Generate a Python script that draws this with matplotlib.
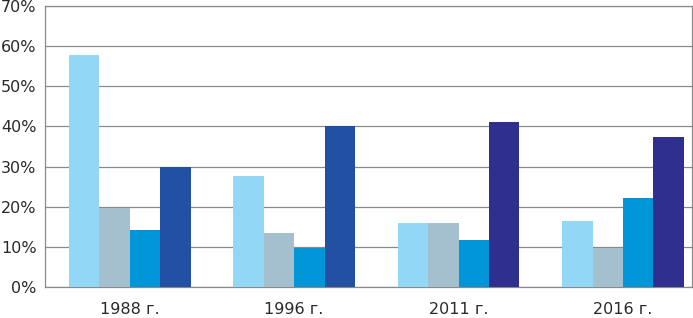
import numpy as np
import matplotlib as mpl
import matplotlib.pyplot as plt

mpl.rcParams['font.family'] = ['DejaVu Sans']

years = ['1988 г.', '1996 г.', '2011 г.', '2016 г.']
s1 = [57.9, 27.7, 16.0, 16.5]
s2 = [19.8, 13.5, 16.0, 9.7]
s3 = [14.3, 9.8, 11.7, 22.2]
s4 = [30.0, 40.0, 41.1, 37.4]

c1 = '#92d8f6'
c2 = '#a4bfcd'
c3 = '#0096d8'
c4 = ['#2250a2', '#2250a2', '#2e2f8e', '#2e2f8e']

fig = plt.figure(figsize=(6.93, 3.18), dpi=100)
ax = fig.add_axes([45 / 693, 31 / 318, 647 / 693, 281 / 318])

x = np.arange(len(years))
w = 0.185
ax.bar(x - 1.5 * w, s1, w, color=c1, zorder=3)
ax.bar(x - 0.5 * w, s2, w, color=c2, zorder=3)
ax.bar(x + 0.5 * w, s3, w, color=c3, zorder=3)
ax.bar(x + 1.5 * w, s4, w, color=c4, zorder=3)

ax.set_xlim(-0.515, 3.42)
ax.set_ylim(0, 70)
ax.set_yticks(range(0, 71, 10))
ax.set_yticklabels([f'{v}%' for v in range(0, 71, 10)], fontsize=11.5, color='#2a2a2a')
ax.set_xticks(x)
ax.set_xticklabels(years, fontsize=11.5, color='#2a2a2a')
ax.tick_params(axis='both', length=0)
ax.tick_params(axis='y', pad=6)
ax.tick_params(axis='x', pad=11)
ax.grid(axis='y', color='#8a8a8a', linewidth=0.9, zorder=0)
for s in ax.spines.values():
    s.set_color('#8a8a8a')
    s.set_linewidth(0.9)

plt.savefig('out.png', dpi=100)
